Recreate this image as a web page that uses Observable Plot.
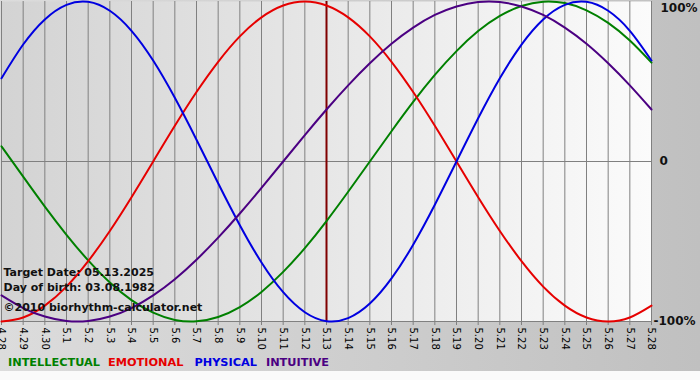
<!DOCTYPE html>
<html><head><meta charset="utf-8">
<script src="https://cdn.jsdelivr.net/npm/d3@7"></script>
<script src="https://cdn.jsdelivr.net/npm/@observablehq/plot@0.6"></script>
<style>
html,body{margin:0;padding:0;background:#fafafa;}
body{width:700px;height:380px;overflow:hidden;}
#wrap{position:relative;width:700px;height:371px;background:linear-gradient(to right,#dcdcdc,#c0c0c0);}
#chart svg{display:block;}
#legend{position:absolute;left:8px;top:356px;font:bold 11.3px "DejaVu Sans",sans-serif;white-space:nowrap;}
#legend span:nth-child(1){margin-right:8px;}
#legend span:nth-child(2){margin-right:11px;}
#legend span:nth-child(3){margin-right:9px;}
</style></head><body>
<div id="wrap"><div id="chart"></div><div id="legend"></div></div>
<script>
const dates = ["4.28","4.29","4.30","5.1","5.2","5.3","5.4","5.5","5.6","5.7","5.8","5.9","5.10","5.11","5.12","5.13","5.14","5.15","5.16","5.17","5.18","5.19","5.20","5.21","5.22","5.23","5.24","5.25","5.26","5.27","5.28"];
const targetDate = "5.13";
const intellectual = [0.095,-0.095,-0.282,-0.458,-0.618,-0.756,-0.866,-0.945,-0.990,-0.999,-0.972,-0.910,-0.815,-0.690,-0.541,-0.372,-0.189,0,0.189,0.372,0.541,0.690,0.815,0.910,0.972,0.999,0.990,0.945,0.866,0.756,0.618];
const emotional = [-1,-0.975,-0.901,-0.782,-0.623,-0.434,-0.223,0,0.223,0.434,0.623,0.782,0.901,0.975,1,0.975,0.901,0.782,0.623,0.434,0.223,0,-0.223,-0.434,-0.623,-0.782,-0.901,-0.975,-1,-0.975,-0.901];
const physical = [0.520,0.731,0.888,0.979,0.998,0.942,0.817,0.631,0.398,0.136,-0.136,-0.398,-0.631,-0.817,-0.942,-0.998,-0.979,-0.888,-0.731,-0.520,-0.270,0,0.270,0.520,0.731,0.888,0.979,0.998,0.942,0.817,0.631];
const intuitive = [-0.837,-0.916,-0.969,-0.997,-0.997,-0.969,-0.916,-0.837,-0.736,-0.614,-0.476,-0.325,-0.165,0,0.165,0.325,0.476,0.614,0.736,0.837,0.916,0.969,0.997,0.997,0.969,0.916,0.837,0.736,0.614,0.476,0.325];
const seriesNames = ["INTELLECTUAL","EMOTIONAL","PHYSICAL","INTUITIVE"];
const seriesColors = ["#008000","#e60000","#0000e0","#4b0082"];
const yTicks = [1,0,-1];
const yTickLabels = ["100%","0","-100%"];
const infoLines = ["Target Date: 05.13.2025","Day of birth: 03.08.1982","\u00a92010 biorhythm-calculator.net"];

const seriesValues = [intellectual, emotional, physical, intuitive];
const idx = d3.range(dates.length);
const targetIndex = dates.indexOf(targetDate);
const lines = seriesValues.map((vals, s) =>
  Plot.lineY(vals.map((v, i) => ({i, v})), {x: "i", y: "v", stroke: seriesColors[s], strokeWidth: 2, curve: "natural"}));

const chart = Plot.plot({
  width: 700, height: 350,
  marginLeft: 1, marginRight: 49, marginTop: 1, marginBottom: 29,
  style: {background: "transparent", fontFamily: "DejaVu Sans, sans-serif", fontSize: "10px", overflow: "visible"},
  x: {domain: [0, dates.length - 1]},
  y: {domain: [-1, 1]},
  marks: [
    Plot.frame({fill: "url(#plotbg)", stroke: null}),
    Plot.ruleX(idx, {stroke: "#808080", strokeWidth: 1}),
    Plot.ruleY([0, -1], {stroke: "#808080", strokeWidth: 1}),
    Plot.ruleX([targetIndex], {stroke: "#800000", strokeWidth: 2}),
    Plot.axisX({ticks: idx, tickFormat: i => dates[i], tickRotate: 90, tickSize: 4, tickPadding: 2, stroke: "#808080", fill: "#000", label: null}),
    Plot.axisY({anchor: "right", ticks: [yTicks[1]], tickFormat: () => yTickLabels[1], tickSize: 0, tickPadding: 8, fontWeight: "bold", fontSize: 12, fill: "#111", label: null}),
    Plot.axisY({anchor: "right", ticks: [yTicks[0]], tickFormat: () => yTickLabels[0], tickSize: 0, tickPadding: 9, dy: 7, fontWeight: "bold", fontSize: 12, fill: "#111", label: null}),
    Plot.axisY({anchor: "right", ticks: [yTicks[2]], tickFormat: () => yTickLabels[2], tickSize: 0, tickPadding: 2, fontWeight: "bold", fontSize: 12, fill: "#111", label: null}),
    ...lines,
    Plot.text([infoLines[0]], {frameAnchor: "bottom-left", lineAnchor: "middle", textAnchor: "start", dx: 2, dy: -49, fontWeight: "bold", fontSize: 11, fill: "#111"}),
    Plot.text([infoLines[1]], {frameAnchor: "bottom-left", lineAnchor: "middle", textAnchor: "start", dx: 2, dy: -34, fontWeight: "bold", fontSize: 11, fill: "#111"}),
    Plot.text([infoLines[2]], {frameAnchor: "bottom-left", lineAnchor: "middle", textAnchor: "start", dx: 2, dy: -14, fontWeight: "bold", fontSize: 11, fill: "#111"})
  ]
});

const svg = d3.select(chart);
const grad = svg.insert("defs", ":first-child").append("linearGradient")
  .attr("id", "plotbg").attr("x1", 0).attr("x2", 1).attr("y1", 0).attr("y2", 0);
grad.append("stop").attr("offset", 0).attr("stop-color", "#d3d3d3");
grad.append("stop").attr("offset", 1).attr("stop-color", "#fbfbfb");
document.getElementById("chart").appendChild(chart);

const legend = document.getElementById("legend");
seriesNames.forEach((n, s) => {
  const sp = document.createElement("span");
  sp.textContent = n;
  sp.style.color = seriesColors[s];
  legend.appendChild(sp);
});
</script>
</body></html>
